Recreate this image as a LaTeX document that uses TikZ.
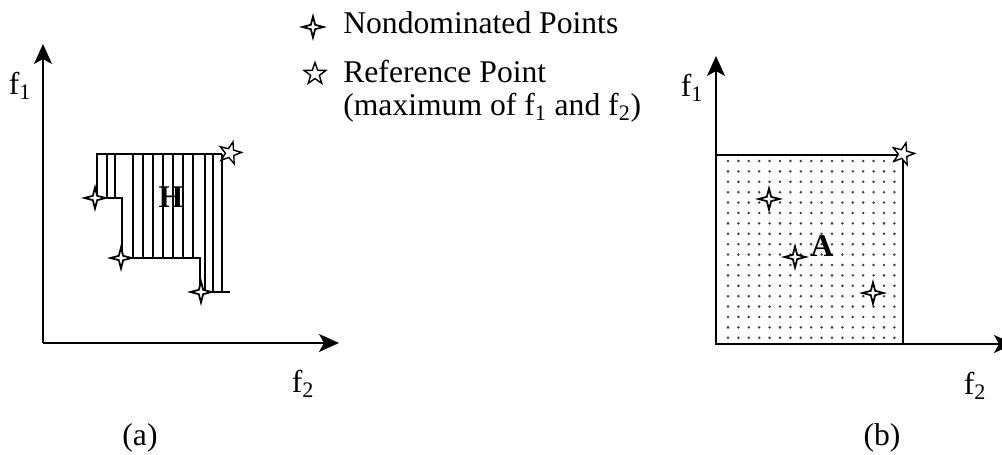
\documentclass[tikz,border=0pt]{standalone}
\usepackage{fontspec}
\setmainfont{Liberation Serif}
\usetikzlibrary{arrows.meta,shapes.geometric}

\begin{document}
\begin{tikzpicture}[
    x=0.02cm, y=-0.02cm,
    txt/.style={font=\fontsize{18}{20}\selectfont, inner sep=0pt},
    axis/.style={line width=0.9pt, -{Stealth[length=0.4cm, width=0.36cm, inset=0.1cm]}},
    edge/.style={line width=0.9pt},
    hatch/.style={line width=1.1pt},
    ndpt/.style={star, star points=4, star point ratio=3.4, minimum size=0.42cm,
                 inner sep=0pt, draw, fill=white, line width=1pt},
    refpt/.style={star, star points=5, star point ratio=2.5, minimum size=0.46cm,
                  inner sep=0pt, draw, fill=white, line width=0.8pt},
  ]
    \useasboundingbox (0,0) rectangle (1002,455);

    % ---- legend ----
    \node[ndpt]  (lgndpt)  at (313,27) {};
    \node[refpt] (lgrefpt) at (315,74) {};
    \node[txt, anchor=base west] (lgnd) at (343,34) {Nondominated Points};
    \node[txt, anchor=base west] (lgref) at (343,83) {Reference Point};
    \node[txt, anchor=base west] (lgmax) at (343,116)
        {(maximum of f\textsubscript{1} and f\textsubscript{2})};

    % ---- (a) hypervolume ----
    \coordinate (oa) at (43,343);
    \coordinate (ya) at (43,44);
    \coordinate (xa) at (339,343);
    \draw[axis] (oa) -- (ya);
    \draw[axis] (oa) -- (xa);
    \node[txt] (f1a) at (20,86) {f\textsubscript{1}};
    \node[txt] (f2a) at (303,384) {f\textsubscript{2}};

    \begin{scope}
      \clip (97,154) -- (222,154) -- (222,292) -- (200,292) -- (200,258)
            -- (122,258) -- (122,198) -- (97,198) -- cycle;
      \foreach \x in {107,115,133,143,...,193,205,213}
        \draw[hatch] (\x,150) -- (\x,300);
    \end{scope}
    \draw[edge] (222,154) -- (97,154) -- (97,198) -- (122,198) -- (122,258)
                -- (200,258) -- (200,292) -- (230,292);
    \draw[hatch] (222,154) -- (222,292);
    \node[txt, font=\fontsize{18}{20}\selectfont\bfseries] (hv) at (171,197) {H};

    \node[ndpt]  (pa1) at (95,198) {};
    \node[ndpt]  (pa2) at (121,258) {};
    \node[ndpt]  (pa3) at (201,292) {};
    \node[refpt, rotate=-15] (ra) at (230,153) {};

    \node[txt] (capa) at (140,438) {(a)};

    % ---- (b) area ----
    \coordinate (ob) at (716,344);
    \coordinate (yb) at (716,56);
    \coordinate (xb) at (1014,344);
    \foreach \i in {0,...,16}
      \foreach \j in {0,...,17}
        \fill[black!75] (728+\i*10.4,161+\j*10.4) circle (1.4);
    \draw[edge] (716,155) rectangle (903,344);
    \draw[axis] (ob) -- (yb);
    \draw[axis] (ob) -- (xb);
    \node[txt] (f1b) at (692,88) {f\textsubscript{1}};
    \node[txt] (f2b) at (975,386) {f\textsubscript{2}};
    \node[txt, font=\fontsize{18}{20}\selectfont\bfseries] (ar) at (822,246) {A};

    \node[ndpt]  (pb1) at (769,199) {};
    \node[ndpt]  (pb2) at (795,257) {};
    \node[ndpt]  (pb3) at (873,293) {};
    \node[refpt, rotate=-15] (rb) at (903,154) {};

    \node[txt] (capb) at (882,438) {(b)};
\end{tikzpicture}
\end{document}
